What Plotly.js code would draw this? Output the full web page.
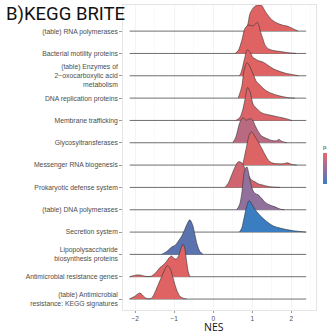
<!DOCTYPE html>
<html><head>
<script src="https://cdn.plot.ly/plotly-3.0.1.min.js"></script>
<style>body{margin:0;background:#fff}</style>
</head><body>
<div id="chart" style="width:327px;height:335px"></div>
<script>
// Categories, top to bottom
const categories = [
  "(table) RNA polymerases",
  "Bacterial motility proteins",
  "(table) Enzymes of<br>2\u2212oxocarboxylic acid<br>metabolism",
  "DNA replication proteins",
  "Membrane trafficking",
  "Glycosyltransferases",
  "Messenger RNA biogenesis",
  "Prokaryotic defense system",
  "(table) DNA polymerases",
  "Secretion system",
  "Lipopolysaccharide<br>biosynthesis proteins",
  "Antimicrobial resistance genes",
  "(table) Antimicrobial<br>resistance: KEGG signatures"
];

// NES grid points and scaled density heights (row units)
const nesRNApol = [0.81,0.88,0.94,1.02,1.11,1.17,1.24,1.30,1.37,1.50,1.63,1.79,1.92,2.04,2.17];
const denRNApol = [0,0.27,0.78,1.03,1.16,1.17,1.15,0.98,0.78,0.51,0.36,0.26,0.21,0.11,0];

const nesMotility = [0.56,0.64,0.73,0.81,0.88,0.94,1.01,1.07,1.13,1.17,1.20,1.27,1.33,1.41,1.54,1.71,1.89,2.12];
const denMotility = [0,0.13,0.58,1.11,1.25,1.27,1.23,1.30,1.39,1.25,1.03,0.66,0.36,0.21,0.13,0.09,0.04,0];

const nesEnzymes = [0.67,0.71,0.75,0.81,0.87,0.94,1.01,1.07,1.15,1.28,1.41,1.54,1.71,1.88,2.01,2.18];
const denEnzymes = [0,0.13,0.38,0.83,1.16,1.06,0.83,0.76,0.68,0.61,0.46,0.31,0.19,0.10,0.06,0];

const nesDNArep = [0.64,0.68,0.73,0.79,0.86,0.90,0.94,1.03,1.11,1.20,1.33,1.45,1.63,1.79,1.97,2.09];
const denDNArep = [0,0.22,0.51,1.25,1.58,1.54,1.40,1.03,0.73,0.58,0.36,0.24,0.13,0.06,0.01,0];

const nesMembrane = [0.58,0.68,0.75,0.81,0.88,0.94,0.98,1.03,1.11,1.20,1.28,1.45,1.63,1.84,2.01];
const denMembrane = [0,0.13,0.45,0.91,1.48,1.30,0.98,0.69,0.54,0.39,0.31,0.24,0.17,0.09,0];

const nesGlyco = [0.50,0.58,0.67,0.73,0.77,0.85,0.94,1.01,1.07,1.15,1.24,1.37,1.50,1.62,1.68,1.75,1.88];
const denGlyco = [0,0.26,0.86,1.08,1.11,1.01,1.08,1.01,0.78,0.51,0.30,0.19,0.10,0.09,0.15,0.07,0];

const nesMessenger = [0.75,0.79,0.86,0.92,0.98,1.07,1.15,1.24,1.33,1.41,1.50,1.63,1.79,1.90,2.01,2.14];
const denMessenger = [0,0.30,0.89,1.34,1.49,1.27,1.04,0.75,0.45,0.22,0.10,0.06,0.06,0.10,0.03,0];

const nesDefense = [0.30,0.38,0.47,0.56,0.64,0.73,0.81,0.90,0.98,1.07,1.15,1.28,1.45,1.71];
const denDefense = [0,0.18,0.55,0.92,1.15,1.10,0.85,0.55,0.33,0.25,0.16,0.10,0.03,0];

const nesDNApol = [0.60,0.67,0.73,0.77,0.81,0.86,0.90,0.94,1.01,1.07,1.15,1.24,1.33,1.45,1.58,1.71,1.82];
const denDNApol = [0,0.21,0.73,1.40,1.79,1.92,1.70,1.33,0.88,0.73,0.67,0.51,0.33,0.21,0.13,0.03,0];

const nesSecretion = [0.67,0.73,0.76,0.80,0.83,0.86,0.89,0.92,0.95,0.98,1.07,1.20,1.37,1.54,1.71,1.88,2.05,2.27,2.38];
const denSecretion = [0,0.18,0.40,0.72,0.98,1.16,1.34,1.41,1.36,1.28,1.01,0.74,0.47,0.27,0.18,0.11,0.06,0.02,0];

const nesLPS = [-1.32,-1.19,-1.11,-1.04,-0.98,-0.90,-0.81,-0.73,-0.66,-0.60,-0.53,-0.47,-0.41,-0.34,-0.26];
const denLPS = [0,0.13,0.26,0.36,0.40,0.58,0.81,1.11,1.40,1.55,1.33,0.88,0.43,0.13,0];

const nesAMRgenes = [-2.14,-2.06,-1.96,-1.85,-1.71,-1.58,-1.45,-1.37,-1.28,-1.19,-1.13,-1.07,-0.98,-0.92,-0.85,-0.81,-0.77,-0.73,-0.68,-0.64,-0.60];
const denAMRgenes = [0,0.04,0.08,0.07,0.01,0.03,0.22,0.40,0.52,0.70,0.85,0.93,0.79,0.83,1.12,1.34,1.45,1.27,0.67,0.22,0];

const nesAMRkegg = [-2.14,-2.07,-2.01,-1.88,-1.75,-1.67,-1.58,-1.50,-1.41,-1.32,-1.24,-1.18,-1.11,-1.04,-0.98,-0.92,-0.85,-0.77,-0.68];
const denAMRkegg = [0,0.07,0.12,0.27,0.07,0.01,0.04,0.27,0.64,1.01,1.31,1.49,1.39,1.01,0.64,0.34,0.12,0.04,0];

const xTickVals = [-2,-1,0,1,2];
const xTickText = ["\u22122","\u22121","0","1","2"];

// styles
const fills = ["#DF6363","#DF6363","#DF6363","#DF6363","#DB6468","#B96A80","#DD6465","#D0656F","#92709C","#3A7DC0","#5A72AD","#DF6363","#DF6363"];
const series = [
  [nesRNApol,denRNApol],[nesMotility,denMotility],[nesEnzymes,denEnzymes],[nesDNArep,denDNArep],
  [nesMembrane,denMembrane],[nesGlyco,denGlyco],[nesMessenger,denMessenger],[nesDefense,denDefense],
  [nesDNApol,denDNApol],[nesSecretion,denSecretion],[nesLPS,denLPS],[nesAMRgenes,denAMRgenes],[nesAMRkegg,denAMRkegg]
];
const n = categories.length;
const allX = series.flatMap(s => s[0]);
const xmin = Math.min(...allX), xmax = Math.max(...allX);

const traces = [];
series.forEach((s, i) => {
  const k = n - 1 - i;
  traces.push({x:[xmin,xmax], y:[k,k], mode:'lines', line:{color:'#4a4a4a', width:0.8}, hoverinfo:'skip', showlegend:false});
  traces.push({x:s[0], y:s[1].map(h => k + h), mode:'lines', fill:'toself', fillcolor:fills[i],
    line:{color:'#333333', width:0.6, shape:'spline', smoothing:0.9}, hoverinfo:'skip', showlegend:false});
});
// colour bar
traces.push({x:[null], y:[null], mode:'markers', showlegend:false, hoverinfo:'skip',
  marker:{color:[0,1], cmin:0, cmax:1, colorscale:[[0,'#3D7EC3'],[0.5,'#9B6E9E'],[1,'#E8696A']], showscale:true,
    colorbar:{x:1.036, xanchor:'left', xpad:0, ypad:0, y:0.482, yanchor:'middle', len:42, lenmode:'pixels', thickness:10,
      outlinewidth:0, ticks:'', showticklabels:false,
      title:{text:'p.adjust', side:'top', font:{size:6, color:'#333', family:'Liberation Sans, Arial'}}}}});

const layout = {
  width:327, height:335,
  margin:{l:123, r:11, t:5, b:25, autoexpand:false},
  paper_bgcolor:'#fff', plot_bgcolor:'#fff',
  font:{family:'Liberation Sans, Arial, sans-serif', color:'#4d4d4d', size:6},
  title:{text:'B)KEGG BRITE', xref:'container', yref:'container', x:6/327, xanchor:'left', y:1-14/335, yanchor:'middle',
    font:{family:'Roboto, Liberation Sans, Arial', size:18.5, color:'#111'}},
  xaxis:{range:[-2.31,2.63], tickmode:'array', tickvals:xTickVals, ticktext:xTickText, showgrid:true, gridcolor:'#EBEBEB', gridwidth:0.6,
    minor:{tickmode:'array', tickvals:[-1.5,-0.5,0.5,1.5,2.5], showgrid:true, gridcolor:'#F4F4F4', gridwidth:0.5},
    zeroline:false, showline:true, mirror:true, linecolor:'#DDDDDD', linewidth:0.8,
    ticks:'outside', ticklen:2.5, tickcolor:'#555', tickwidth:0.6, tickfont:{size:6.5, color:'#4d4d4d'}},
  yaxis:{range:[-0.49,13.17], tickmode:'array', tickvals:categories.map((c,i)=>n-1-i), ticktext:categories,
    showgrid:false, zeroline:false, showline:true, mirror:true, linecolor:'#DDDDDD', linewidth:0.8,
    ticks:'outside', ticklen:3, tickcolor:'#555', tickwidth:0.6, tickfont:{size:6.8, color:'#4d4d4d'}},
  annotations:[{text:'NES', xref:'paper', yref:'paper', x:0.47, y:-(327-310)/305, xanchor:'center', yanchor:'middle',
    showarrow:false, font:{size:10.5, color:'#111', family:'Open Sans, Liberation Sans'}}]
};
Plotly.newPlot('chart', traces, layout, {staticPlot:true, displayModeBar:false});
</script>
</body></html>
